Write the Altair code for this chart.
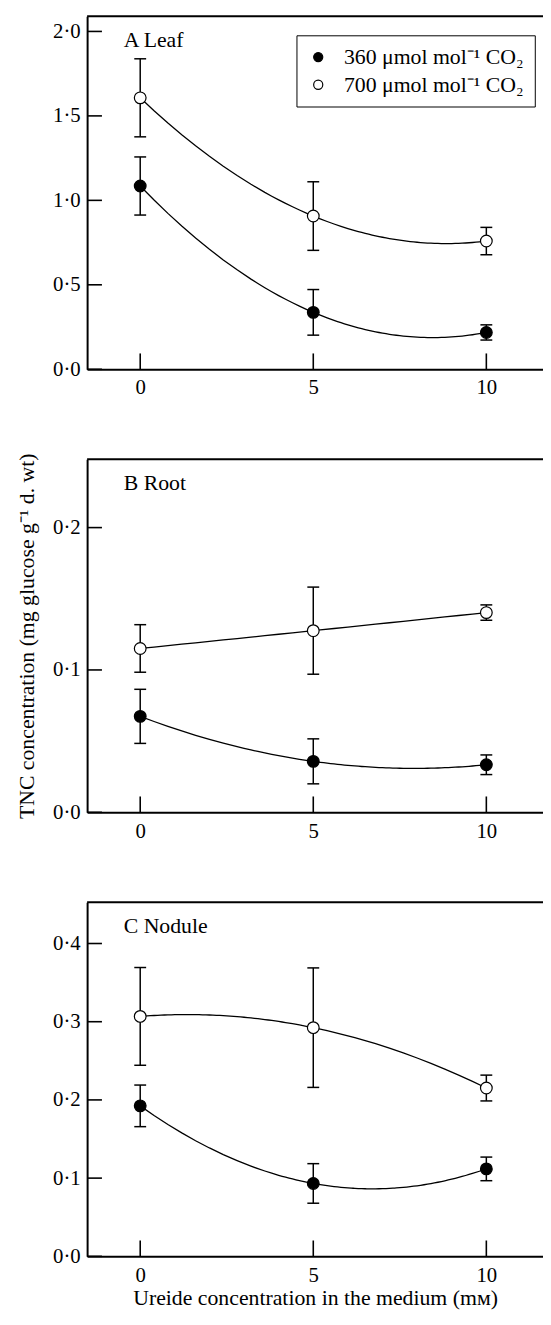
import altair as alt
import pandas as pd

FONT = "Liberation Serif"

# ---- data ----
ureide = [0, 5, 10]
series_names = ["360", "700"]
series_fill = ["black", "white"]
legend_texts = ["360 \u03bcmol mol\u207b\u00b9 CO\u2082", "700 \u03bcmol mol\u207b\u00b9 CO\u2082"]

leaf_360 = [1.085, 0.337, 0.218]
leaf_360_err = [0.172, 0.135, 0.045]
leaf_700 = [1.607, 0.907, 0.759]
leaf_700_err = [0.231, 0.203, 0.081]

root_360 = [0.0674, 0.0358, 0.0334]
root_360_err = [0.0190, 0.0158, 0.0069]
root_700 = [0.1151, 0.1276, 0.1403]
root_700_err = [0.0167, 0.0306, 0.0054]

nodule_360 = [0.1924, 0.0932, 0.1118]
nodule_360_err = [0.0266, 0.0253, 0.0151]
nodule_700 = [0.3068, 0.2924, 0.2152]
nodule_700_err = [0.0625, 0.0764, 0.0165]

panel_labels = ["A Leaf", "B Root", "C Nodule"]
y_domains = [[0, 2.09], [0, 0.248], [0, 0.4527]]
y_ticks = [[0, 0.5, 1.0, 1.5, 2.0], [0, 0.1, 0.2], [0, 0.1, 0.2, 0.3, 0.4]]
x_ticks = [0, 5, 10]
x_domain = [-1.534, 11.637]

y_title = "TNC concentration (mg glucose g\u207b\u00b9 d. wt)"
x_title = "Ureide concentration in the medium (m\u1d0d)"

W = 461
HEIGHTS = [357, 357, 358]

label_expr = " : ".join(
    [f"datum.value == '{s}' ? '{t}'" for s, t in zip(series_names[:-1], legend_texts[:-1])]
    + [f"'{legend_texts[-1]}'"]
)
tick_label_expr = "replace(format(datum.value, '.1f'), '.', '\u00b7')"


def panel(i, v360, e360, v700, e700, legend=False, ytitle=None, xtitle=None):
    H = HEIGHTS[i]
    df = pd.DataFrame({
        "x": ureide * 2,
        "y": v360 + v700,
        "err": e360 + e700,
        "series": [series_names[0]] * 3 + [series_names[1]] * 3,
    })
    xs = alt.Scale(domain=x_domain, nice=False, zero=False)
    ys = alt.Scale(domain=y_domains[i], nice=False, zero=False)
    x_axis = alt.Axis(values=x_ticks, ticks=False, grid=False, domainWidth=2,
                      domainColor="black", labelFont=FONT, labelFontSize=21,
                      labelColor="black", labelPadding=8, titleFont=FONT,
                      titleFontSize=22, titleFontWeight="normal", titleColor="black",
                      titleBaseline="alphabetic", titleY=49, format="d")
    y_axis = alt.Axis(values=y_ticks[i], ticks=False, grid=False, domainWidth=2,
                      domainColor="black", labelFont=FONT, labelFontSize=21,
                      labelColor="black", labelPadding=7, labelExpr=tick_label_expr,
                      titleFont=FONT, titleFontSize=22, titleFontWeight="normal",
                      titleColor="black", titlePadding=14)

    def X(field):
        return alt.X(field, type="quantitative", scale=xs, axis=x_axis, title=xtitle)

    def Y(field):
        return alt.Y(field, type="quantitative", scale=ys, axis=y_axis, title=ytitle)

    base = alt.Chart(df)

    curve = base.transform_regression(
        "x", "y", method="poly", order=2, groupby=["series"], extent=[0, 10]
    ).mark_line(color="black", strokeWidth=1.3).encode(
        x=X("x"), y=Y("y"), detail="series:N"
    )

    bars = base.transform_calculate(
        lo="datum.y - datum.err", hi="datum.y + datum.err"
    ).mark_rule(color="black", strokeWidth=1.5).encode(
        x=X("x"), y=Y("lo"), y2="hi:Q"
    )

    caps = base.transform_calculate(
        lo="datum.y - datum.err", hi="datum.y + datum.err"
    ).transform_fold(["lo", "hi"], as_=["end", "v"]).mark_tick(
        orient="horizontal", size=12, thickness=1.5, color="black", opacity=1
    ).encode(x=X("x"), y=Y("v"))

    if legend:
        leg = alt.Legend(orient="none", legendX=211.7, legendY=19.3, title=None,
                         labelExpr=label_expr, labelFont=FONT, labelFontSize=22,
                         labelColor="black", labelLimit=500, symbolType="circle",
                         symbolSize=85, symbolStrokeColor="black", symbolStrokeWidth=1.2,
                         symbolOpacity=1, strokeColor="black", padding=11,
                         rowPadding=6, labelOffset=15)
    else:
        leg = None

    points = base.mark_point(shape="circle", filled=True, size=140, stroke="black",
                             strokeWidth=1.2, opacity=1).encode(
        x=X("x"), y=Y("y"),
        fill=alt.Fill("series:N", scale=alt.Scale(domain=series_names, range=series_fill),
                      legend=leg),
    )

    xt = alt.Chart(pd.DataFrame({"t": x_ticks})).mark_rule(
        color="black", strokeWidth=1.6).encode(
        x=X("t"), y=alt.value(H - 16), y2=alt.value(H))
    yt = alt.Chart(pd.DataFrame({"t": y_ticks[i]})).mark_rule(
        color="black", strokeWidth=1.6).encode(
        y=Y("t"), x=alt.value(0), x2=alt.value(15))
    top = alt.Chart(pd.DataFrame({"t": [0]})).mark_rule(
        color="black", strokeWidth=2).encode(
        x=alt.value(0), x2=alt.value(W), y=alt.value(0))
    lab = alt.Chart(pd.DataFrame({"label": [panel_labels[i]]})).mark_text(
        font=FONT, fontSize=22, color="black", align="left", baseline="alphabetic"
    ).encode(text="label:N", x=alt.value(37), y=alt.value(31))

    return alt.layer(curve, bars, caps, points, xt, yt, top, lab).properties(
        width=W, height=H)


pA = panel(0, leaf_360, leaf_360_err, leaf_700, leaf_700_err, legend=True)
pB = panel(1, root_360, root_360_err, root_700, root_700_err, ytitle=y_title)
pC = panel(2, nodule_360, nodule_360_err, nodule_700, nodule_700_err, xtitle=x_title)

chart = alt.vconcat(pA, pB, pC, spacing=91, bounds="flush").resolve_scale(
    x="independent", y="independent", fill="independent"
).properties(
    padding={"left": 8, "top": 0, "right": -1, "bottom": -2},
).configure_view(stroke=None)

chart.save("out.html", embed_options={"renderer": "svg", "actions": False})
